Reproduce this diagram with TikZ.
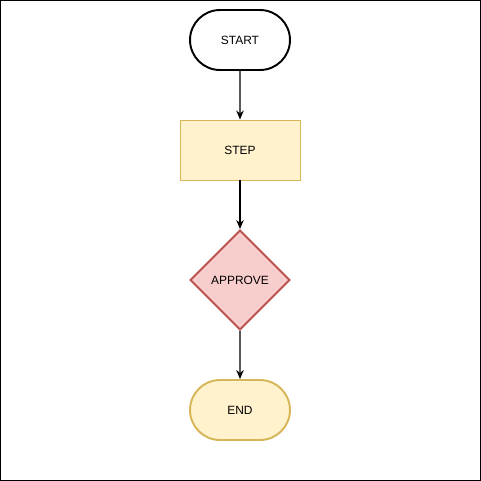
\documentclass[tikz,border=0pt]{standalone}
\usepackage{fontspec}
\setmainfont{Liberation Sans}
\usepackage{tikz}
\usetikzlibrary{shapes.geometric, shapes.misc, arrows.meta, positioning}
\definecolor{noteyellow}{HTML}{FFF2CC}
\definecolor{noteborder}{HTML}{D6B656}
\definecolor{alertred}{HTML}{F8CECC}
\definecolor{alertborder}{HTML}{B85450}

\begin{document}
\begin{tikzpicture}[
  x=0.02cm, y=-0.02cm,
  term/.style={rounded rectangle, draw, line width=1.1pt, minimum width=2cm, minimum height=1.2cm, inner sep=0pt, align=center, font=\fontsize{6.8}{8}\selectfont},
  box/.style={rectangle, draw, line width=0.55pt, minimum width=2.4cm, minimum height=1.2cm, inner sep=0pt, align=center, font=\fontsize{6.8}{8}\selectfont},
  check/.style={diamond, draw, line width=1.1pt, minimum width=2cm, minimum height=2cm, inner sep=0pt, align=center, font=\fontsize{6.8}{8}\selectfont},
  arrow/.style={-{Stealth[length=1.8mm, width=1.5mm]}, line width=0.7pt}
]
  \useasboundingbox (0,0) rectangle (481,481);
  \draw[line width=0.6pt] (0.5,0.5) rectangle (480.5,480.5);

  \node[term, fill=white] (start) at (240,40) {START};
  \node[box, fill=noteyellow, draw=noteborder] (step) at (240,150) {STEP};
  \node[check, fill=alertred, draw=alertborder] (approve) at (240,280) {APPROVE};
  \node[term, fill=noteyellow, draw=noteborder] (end) at (240,410) {END};

  \draw[arrow] (start) -- (step);
  \draw[arrow] (step) -- (approve);
  \draw[arrow] (approve) -- (end);
\end{tikzpicture}
\end{document}
